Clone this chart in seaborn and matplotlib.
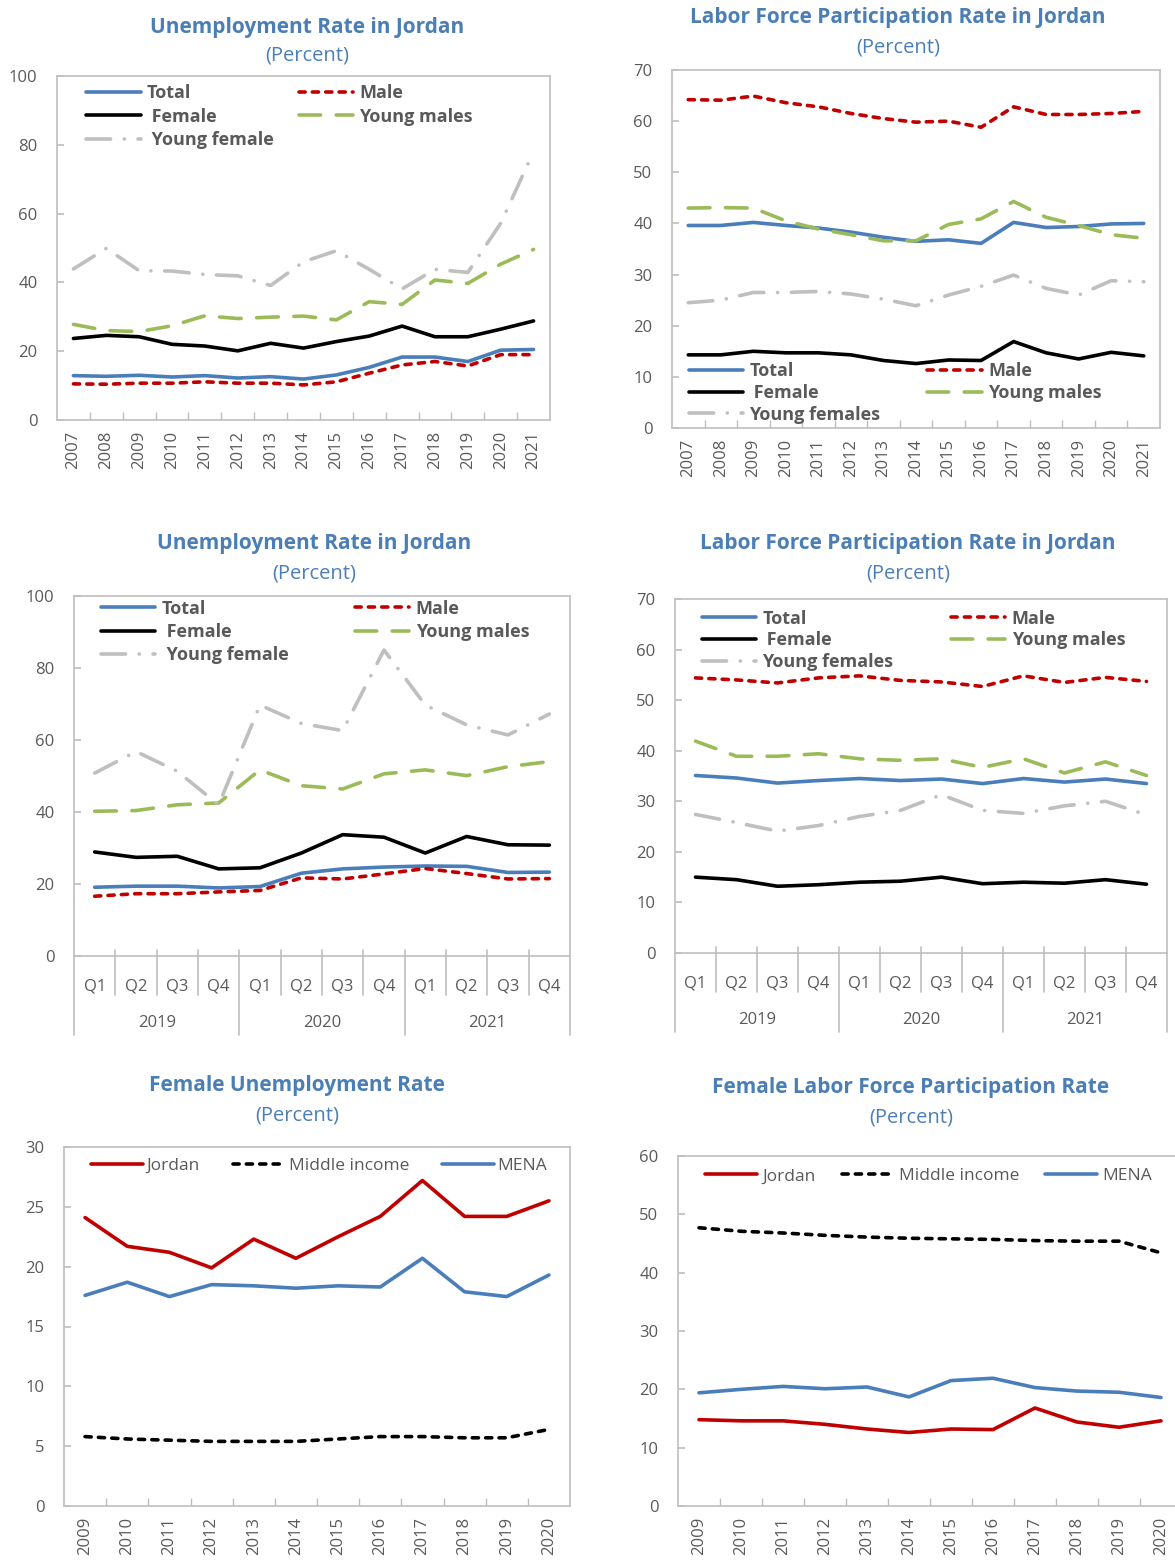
import numpy as np
import pandas as pd
import matplotlib
matplotlib.use('Agg')
import matplotlib.pyplot as plt
import seaborn as sns

# ---- data ----
years_a = list(range(2007, 2022))
unemp_total = [12.9, 12.7, 13.0, 12.5, 12.9, 12.2, 12.6, 11.9, 13.1, 15.3, 18.3, 18.3, 17.0, 20.3, 20.5]
unemp_male = [10.5, 10.4, 10.7, 10.7, 11.1, 10.7, 10.7, 10.2, 11.1, 13.6, 16.0, 17.0, 15.7, 19.0, 19.0]
unemp_female = [23.7, 24.6, 24.2, 22.0, 21.5, 20.1, 22.3, 20.9, 22.8, 24.4, 27.3, 24.2, 24.2, 26.4, 28.8]
unemp_ymale = [27.8, 26.0, 25.7, 27.4, 30.3, 29.5, 29.9, 30.2, 29.1, 34.4, 33.6, 40.7, 39.7, 45.3, 49.6]
unemp_yfemale = [43.9, 49.9, 43.4, 43.3, 42.3, 41.9, 39.1, 46.0, 49.2, 43.8, 38.1, 43.8, 42.9, 57.2, 78.0]

lfp_total = [39.6, 39.6, 40.2, 39.6, 39.1, 38.3, 37.3, 36.5, 36.8, 36.1, 40.2, 39.2, 39.4, 39.9, 40.0]
lfp_male = [64.2, 64.1, 64.9, 63.6, 62.8, 61.5, 60.5, 59.8, 60.0, 58.8, 62.8, 61.3, 61.3, 61.5, 61.9]
lfp_female = [14.3, 14.3, 15.0, 14.7, 14.7, 14.3, 13.2, 12.6, 13.3, 13.2, 16.9, 14.7, 13.5, 14.8, 14.1]
lfp_ymale = [43.0, 43.1, 43.0, 40.5, 38.9, 37.8, 36.6, 36.6, 39.8, 40.9, 44.3, 41.2, 39.6, 37.8, 37.1]
lfp_yfemale = [24.5, 25.0, 26.5, 26.5, 26.7, 26.2, 25.2, 23.9, 26.0, 27.7, 29.9, 27.3, 26.0, 28.8, 28.6]

quarters = ['Q1', 'Q2', 'Q3', 'Q4'] * 3
q_years = ['2019', '2020', '2021']
qu_total = [19.1, 19.4, 19.4, 18.9, 19.3, 23.0, 24.2, 24.7, 25.0, 24.9, 23.2, 23.3]
qu_male = [16.6, 17.3, 17.3, 17.8, 18.2, 21.7, 21.4, 22.8, 24.3, 22.9, 21.4, 21.5]
qu_female = [28.9, 27.4, 27.7, 24.2, 24.5, 28.6, 33.7, 33.0, 28.6, 33.2, 30.9, 30.8]
qu_ymale = [40.2, 40.4, 42.0, 42.5, 51.7, 47.3, 46.4, 50.6, 51.7, 50.1, 52.6, 54.0]
qu_yfemale = [50.8, 56.8, 51.3, 42.0, 69.7, 64.6, 62.6, 85.0, 69.7, 64.2, 61.4, 67.2]

ql_total = [35.1, 34.6, 33.6, 34.1, 34.5, 34.1, 34.4, 33.5, 34.5, 33.8, 34.4, 33.5]
ql_male = [54.4, 54.0, 53.4, 54.4, 54.8, 53.9, 53.6, 52.7, 54.8, 53.5, 54.5, 53.7]
ql_female = [15.0, 14.5, 13.2, 13.5, 14.0, 14.2, 15.0, 13.7, 14.0, 13.8, 14.5, 13.6]
ql_ymale = [41.9, 38.9, 38.9, 39.4, 38.4, 38.1, 38.4, 36.7, 38.4, 35.6, 37.8, 35.1]
ql_yfemale = [27.4, 25.8, 24.1, 25.2, 27.0, 28.2, 31.3, 28.2, 27.6, 29.1, 30.0, 27.3]

years_b = list(range(2009, 2021))
fu_jordan = [24.1, 21.7, 21.2, 19.9, 22.3, 20.7, 22.5, 24.2, 27.2, 24.2, 24.2, 25.5]
fu_middle = [5.8, 5.6, 5.5, 5.4, 5.4, 5.4, 5.6, 5.8, 5.8, 5.7, 5.7, 6.4]
fu_mena = [17.6, 18.7, 17.5, 18.5, 18.4, 18.2, 18.4, 18.3, 20.7, 17.9, 17.5, 19.3]

fl_jordan = [14.8, 14.6, 14.6, 14.0, 13.2, 12.6, 13.2, 13.1, 16.8, 14.4, 13.5, 14.6]
fl_middle = [47.7, 47.1, 46.8, 46.4, 46.1, 45.9, 45.8, 45.7, 45.5, 45.4, 45.4, 43.4]
fl_mena = [19.4, 20.0, 20.5, 20.1, 20.4, 18.7, 21.5, 21.9, 20.3, 19.7, 19.5, 18.6]

# ---- style ----
sns.set_theme(style='white')
plt.rcParams['font.family'] = ['Open Sans', 'DejaVu Sans']

BLUE = '#4A7EBB'
RED = '#C00000'
GREEN = '#9BBB59'
GREY = '#BFBFBF'
SPINE = '#BFBFBF'
TXT = '#595959'
TITLE = '#4A7EB5'
LW = 2.6

styles = {
    'Total': dict(color=BLUE, ls='-'),
    'Male': dict(color=RED, ls=(0, (1.7, 2.0))),
    'Female': dict(color='black', ls='-'),
    'Young males': dict(color=GREEN, ls=(0, (6, 4.3))),
    'Young female': dict(color=GREY, ls=(0, (6.8, 3.8, 0.01, 3.8))),
    'Jordan': dict(color=RED, ls='-'),
    'Middle income': dict(color='black', ls=(0, (1.7, 2.0))),
    'MENA': dict(color=BLUE, ls='-'),
}

W, H = 1175, 1564
fig = plt.figure(figsize=(W / 100, H / 100), dpi=100)


def make_ax(l, t, r, b):
    return fig.add_axes([l / W, 1 - b / H, (r - l) / W, (b - t) / H])


def draw(ax, x, series, labels):
    for name, vals in series:
        st = styles[name]
        lab = labels.get(name, name)
        sns.lineplot(x=x, y=vals, ax=ax, color=st['color'], linestyle=st['ls'], lw=LW,
                     label=lab, solid_capstyle='round', dash_capstyle='round', legend=False)
    for s in ax.spines.values():
        s.set_color(SPINE)
        s.set_linewidth(1.2)
    ax.tick_params(axis='y', direction='in', length=5, color=SPINE, labelcolor=TXT,
                   labelsize=12, pad=14, left=True)
    ax.set_xlabel('')
    ax.set_ylabel('')


def titles(cx, y1, y2, text):
    fig.text(cx / W, 1 - y1 / H, text, ha='center', va='center', color=TITLE,
             fontsize=15, fontweight='bold')
    fig.text(cx / W, 1 - y2 / H, '(Percent)', ha='center', va='center', color=TITLE,
             fontsize=14.5)


def year_axis(ax, yrs):
    ax.set_xlim(yrs[0] - 0.5, yrs[-1] + 0.5)
    ax.set_xticks(yrs)
    ax.set_xticklabels([str(y) for y in yrs], rotation=90)
    ax.set_xticks([y + 0.5 for y in yrs[:-1]], minor=True)
    ax.tick_params(axis='x', which='major', length=0, labelcolor=TXT, labelsize=12, pad=8)
    ax.tick_params(axis='x', which='minor', direction='in', length=6, color=SPINE,
                   bottom=True)


def quarter_axis(ax, height_px):
    n = len(quarters)
    ax.set_xlim(-0.5, n - 0.5)
    ax.set_xticks(range(n))
    ax.set_xticklabels(quarters)
    ax.tick_params(axis='x', length=0, labelcolor=TXT, labelsize=12, pad=16)
    tr = ax.get_xaxis_transform()
    q_low = -39 / height_px
    y_low = -79 / height_px
    for i in range(1, n):
        low = y_low if i % 4 == 0 else q_low
        ax.plot([i - 0.5, i - 0.5], [6 / height_px, low], transform=tr, color=SPINE,
                lw=1.2, clip_on=False)
    for xe in (-0.5, n - 0.5):
        ax.plot([xe, xe], [0, y_low], transform=tr, color=SPINE, lw=1.2, clip_on=False)
    for k, yr in enumerate(q_years):
        ax.text(4 * k + 1.5, -67 / height_px, yr, transform=tr, ha='center', va='center',
                color=TXT, fontsize=12)


def legend5(ax, anchor, loc, colsp, labels, lsp=0.3):
    h, l = ax.get_legend_handles_labels()
    d = dict(zip(l, h))
    order = [labels[0], labels[2], labels[4], labels[1], labels[3]]
    leg = ax.legend([d[k] for k in order], order, ncol=2, loc=loc, bbox_to_anchor=anchor,
                    frameon=False, handlelength=3.0, handletextpad=0.35, labelspacing=lsp,
                    columnspacing=colsp, borderaxespad=0,
                    prop={'weight': 'bold', 'size': 13})
    for t in leg.get_texts():
        t.set_color('#595959')


# ---- panel 1 ----
ax1 = make_ax(57, 76, 550, 420)
draw(ax1, years_a, [('Total', unemp_total), ('Male', unemp_male), ('Female', unemp_female),
                    ('Young males', unemp_ymale), ('Young female', unemp_yfemale)],
     {'Female': ' Female', 'Young female': ' Young female'})
ax1.set_ylim(0, 100)
ax1.set_yticks(range(0, 101, 20))
year_axis(ax1, years_a)
legend5(ax1, (0.045, 0.997), 'upper left', 1.4,
        ['Total', 'Male', ' Female', 'Young males', ' Young female'])
titles(307, 27, 55, 'Unemployment Rate in Jordan')

# ---- panel 2 ----
ax2 = make_ax(672, 70, 1160, 428)
draw(ax2, years_a, [('Total', lfp_total), ('Male', lfp_male), ('Female', lfp_female),
                    ('Young males', lfp_ymale), ('Young female', lfp_yfemale)],
     {'Female': ' Female', 'Young female': 'Young females'})
ax2.set_ylim(0, 70)
ax2.set_yticks(range(0, 71, 10))
year_axis(ax2, years_a)
legend5(ax2, (0.02, -0.008), 'lower left', 2.6,
        ['Total', 'Male', ' Female', 'Young males', 'Young females'], lsp=0.2)
titles(898, 18, 47, 'Labor Force Participation Rate in Jordan')

# ---- panel 3 ----
xq = list(range(len(quarters)))
ax3 = make_ax(74, 596, 570, 956)
draw(ax3, xq, [('Total', qu_total), ('Male', qu_male), ('Female', qu_female),
               ('Young males', qu_ymale), ('Young female', qu_yfemale)],
     {'Female': ' Female', 'Young female': ' Young female'})
ax3.set_ylim(0, 100)
ax3.set_yticks(range(0, 101, 20))
quarter_axis(ax3, 360)
legend5(ax3, (0.04, 1.01), 'upper left', 3.7,
        ['Total', 'Male', ' Female', 'Young males', ' Young female'])
titles(314, 543, 573, 'Unemployment Rate in Jordan')

# ---- panel 4 ----
ax4 = make_ax(675, 599, 1167, 953)
draw(ax4, xq, [('Total', ql_total), ('Male', ql_male), ('Female', ql_female),
               ('Young males', ql_ymale), ('Young female', ql_yfemale)],
     {'Female': ' Female', 'Young female': 'Young females'})
ax4.set_ylim(0, 70)
ax4.set_yticks(range(0, 71, 10))
quarter_axis(ax4, 354)
legend5(ax4, (0.04, 0.99), 'upper left', 3.2,
        ['Total', 'Male', ' Female', 'Young males', 'Young females'], lsp=0.2)
titles(908, 543, 573, 'Labor Force Participation Rate in Jordan')

# ---- panel 5 ----
ax5 = make_ax(64, 1147, 570, 1506)
draw(ax5, years_b, [('Jordan', fu_jordan), ('Middle income', fu_middle), ('MENA', fu_mena)], {})
ax5.set_ylim(0, 30)
ax5.set_yticks(range(0, 31, 5))
year_axis(ax5, years_b)
leg = ax5.legend(ncol=3, loc='upper left', bbox_to_anchor=(0.04, 0.99), frameon=False,
                 handlelength=3.0, handletextpad=0.2, columnspacing=1.9, borderaxespad=0,
                 prop={'size': 12.5})
for t in leg.get_texts():
    t.set_color(TXT)
titles(297, 1086, 1116, 'Female Unemployment Rate')

# ---- panel 6 ----
ax6 = make_ax(678, 1156, 1182, 1506)
draw(ax6, years_b, [('Jordan', fl_jordan), ('Middle income', fl_middle), ('MENA', fl_mena)], {})
ax6.set_ylim(0, 60)
ax6.set_yticks(range(0, 61, 10))
year_axis(ax6, years_b)
leg = ax6.legend(ncol=3, loc='upper left', bbox_to_anchor=(0.04, 0.985), frameon=False,
                 handlelength=3.0, handletextpad=0.3, columnspacing=1.5, borderaxespad=0,
                 prop={'size': 12.5})
for t in leg.get_texts():
    t.set_color(TXT)
titles(911, 1088, 1118, 'Female Labor Force Participation Rate')

fig.savefig('out.png', dpi=100, facecolor='white')
